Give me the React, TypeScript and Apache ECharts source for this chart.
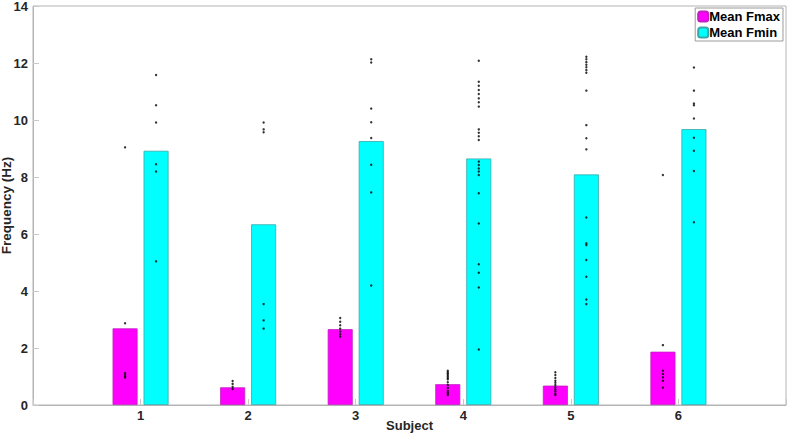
import React, { useEffect, useRef } from "react";
import * as echarts from "echarts";

const subjects = [1, 2, 3, 4, 5, 6];
const meanFmax = [2.69, 0.62, 2.66, 0.73, 0.68, 1.87];
const meanFmin = [8.92, 6.34, 9.26, 8.65, 8.09, 9.68];

const fmaxPoints: number[][] = [
  [9.04, 2.87, 1.12, 1.06, 1.0, 0.96],
  [0.84, 0.74, 0.64, 0.56],
  [3.05, 2.92, 2.8, 2.68, 2.58, 2.48, 2.4],
  [1.2, 1.15, 1.1, 1.05, 1.0, 0.95, 0.9, 0.8, 0.7, 0.6, 0.5, 0.45, 0.4, 0.35],
  [1.15, 1.05, 0.95, 0.85, 0.78, 0.7, 0.62, 0.55, 0.48, 0.4, 0.35],
  [8.07, 2.1, 1.2, 1.09, 0.97, 0.85, 0.61],
];
const fminPoints: number[][] = [
  [11.58, 10.52, 9.91, 8.45, 8.19, 5.04],
  [9.91, 9.67, 9.57, 3.54, 2.97, 2.68],
  [12.13, 12.02, 10.4, 9.92, 9.37, 8.43, 7.46, 4.19],
  [12.08, 11.34, 11.2, 11.05, 10.91, 10.76, 10.62, 10.47, 9.67, 9.55, 9.43, 9.3, 8.54, 8.42, 8.3, 8.19, 8.07, 7.43, 6.37, 4.94, 4.64, 4.12, 1.95],
  [12.22, 12.13, 12.03, 11.94, 11.85, 11.75, 11.66, 11.03, 9.82, 9.36, 8.97, 6.58, 5.67, 5.61, 5.09, 4.5, 3.7, 3.54],
  [11.84, 11.03, 10.58, 10.52, 10.05, 9.38, 8.92, 8.21, 6.41],
];

const FONT = "Liberation Sans, Arial, sans-serif";

export default function App() {
  const ref = useRef<HTMLDivElement>(null);
  useEffect(() => {
    if (!ref.current) return;
    const chart = echarts.init(ref.current, null, { renderer: "svg" });
    const toPts = (arr: number[][]) => {
      const out: number[][] = [];
      arr.forEach((vals, i) => vals.forEach((v) => out.push([subjects[i], v])));
      return out;
    };
    chart.setOption({
      animation: false,
      backgroundColor: "#ffffff",
      grid: {
        left: 33,
        right: 1,
        top: 6,
        bottom: 30,
        containLabel: false,
        outerBoundsMode: "none",
        show: true,
        borderColor: "#b4b4b4",
        borderWidth: 1,
        backgroundColor: "transparent",
      },
      legend: {
        orient: "vertical",
        right: 4,
        top: 8,
        itemWidth: 10,
        itemHeight: 10,
        itemGap: 3,
        padding: [2, 3, 2, 2],
        borderColor: "#9a9a9a",
        borderWidth: 1,
        backgroundColor: "#ffffff",
        data: ["Mean Fmax", "Mean Fmin"],
        textStyle: { fontFamily: FONT, fontWeight: "bold", fontSize: 13, color: "#000", padding: [0, 0, 0, -4] },
      },
      xAxis: {
        type: "value",
        min: 0,
        max: 7,
        interval: 1,
        name: "Subject",
        nameLocation: "middle",
        nameGap: 14,
        nameMoveOverlap: false,
        nameTextStyle: { fontFamily: FONT, fontWeight: "bold", fontSize: 13, color: "#262626", verticalAlign: "top" },
        axisLine: { lineStyle: { color: "#b4b4b4" } },
        axisTick: { inside: true, length: 6, lineStyle: { color: "#c8c8c8" } },
        splitLine: { show: false },
        axisLabel: {
          fontFamily: FONT,
          fontWeight: "bold",
          fontSize: 13,
          color: "#262626",
          margin: 4,
          formatter: (v: number) => (v >= 1 && v <= 6 ? String(v) : ""),
        },
      },
      yAxis: {
        type: "value",
        min: 0,
        max: 14,
        interval: 2,
        name: "Frequency (Hz)",
        nameLocation: "middle",
        nameGap: 20,
        nameMoveOverlap: false,
        nameTextStyle: { fontFamily: FONT, fontWeight: "bold", fontSize: 13.5, color: "#262626" },
        axisLine: { show: true, lineStyle: { color: "#b4b4b4" } },
        axisTick: { show: true, inside: true, length: 6, lineStyle: { color: "#c8c8c8" } },
        splitLine: { show: false },
        axisLabel: { fontFamily: FONT, fontWeight: "bold", fontSize: 13, color: "#262626", margin: 5 },
      },
      series: [
        {
          name: "Mean Fmax",
          type: "bar",
          barWidth: 25,
          barGap: "24%",
          data: subjects.map((s, i) => [s, meanFmax[i]]),
          itemStyle: { color: "#ff00ff", borderColor: "#c020c0", borderWidth: 0.8 },
        },
        {
          name: "Mean Fmin",
          type: "bar",
          barWidth: 25,
          barGap: "24%",
          data: subjects.map((s, i) => [s, meanFmin[i]]),
          itemStyle: { color: "#00ffff", borderColor: "#38a8a8", borderWidth: 0.8 },
        },
        {
          name: "fmaxDots",
          type: "scatter",
          symbol: "circle",
          symbolSize: 2.4,
          symbolOffset: [-15.5, 0],
          data: toPts(fmaxPoints),
          itemStyle: { color: "#000" },
          z: 5,
        },
        {
          name: "fminDots",
          type: "scatter",
          symbol: "circle",
          symbolSize: 2.4,
          symbolOffset: [15.5, 0],
          data: toPts(fminPoints),
          itemStyle: { color: "#000" },
          z: 5,
        },
      ],
    });
    return () => chart.dispose();
  }, []);
  return <div ref={ref} style={{ width: 787, height: 435, position: "absolute", left: 0, top: 0 }} />;
}
